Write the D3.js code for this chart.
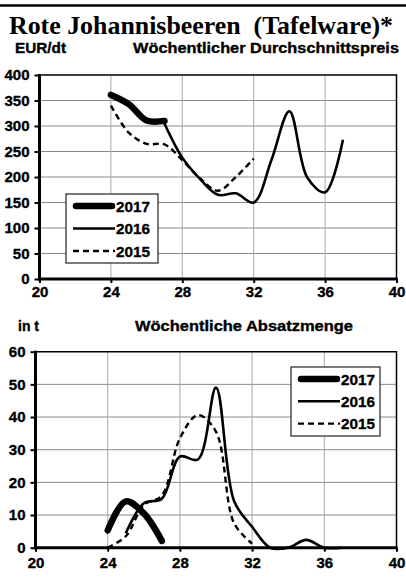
<!DOCTYPE html>
<html>
<head>
<meta charset="utf-8">
<script src="https://cdn.jsdelivr.net/npm/d3@7"></script>
<style>
  body { margin: 0; background: #fff; }
  svg { display: block; font-family: "Liberation Sans", Arial, sans-serif; }
</style>
</head>
<body>
<svg width="406" height="580"></svg>
<script>
// values
var years = ["2017", "2016", "2015"];

var priceWeeks2017 = [24, 25, 26, 27];
var price2017 = [361, 343, 311, 310];
var priceWeeks2016 = [27, 28, 29, 30, 31, 32, 33, 34, 35, 36, 37];
var price2016 = [305, 238, 196, 165, 168, 150, 234, 329, 199, 170, 273];
var priceWeeks2015 = [24, 25, 26, 27, 28, 29, 30, 31, 32];
var price2015 = [340, 287, 265, 264, 233, 197, 173, 200, 236];

var salesWeeks2017 = [24, 25, 26, 27];
var sales2017 = [5.3, 14.2, 10.5, 2.1];
var salesWeeks2016 = [25, 26, 27, 28, 29, 30, 31, 32, 33, 34, 35, 36, 37];
var sales2016 = [4.4, 13.6, 15, 27.9, 27, 49, 14.3, 6.4, 0, 0, 2.4, 0, 0];
var salesWeeks2015 = [24, 25, 26, 27, 28, 29, 30, 31, 32];
var sales2015 = [0, 3.5, 13, 16, 33.5, 40.6, 35.5, 7.5, 1.3];

var xTicks = [20, 24, 28, 32, 36, 40];
var priceTicks = [0, 50, 100, 150, 200, 250, 300, 350, 400];
var salesTicks = [0, 10, 20, 30, 40, 50, 60];

var svg = d3.select("svg");

var styles = {
  "2017": { width: 6.5, dash: null },
  "2016": { width: 2.6, dash: null },
  "2015": { width: 2.4, dash: "6,4" }
};

function zip(xs, ys) {
  return xs.map(function(w, i) { return [w, ys[i]]; });
}

// heavier look for the bold labels
function heavy(sel) {
  sel.attr("stroke", "#000").attr("stroke-width", 0.35);
}

// top rule + title
svg.append("line")
    .attr("x1", 0).attr("x2", 406)
    .attr("y1", 5.5).attr("y2", 5.5)
    .attr("stroke", "#000").attr("stroke-width", 2.5);

svg.append("text")
    .attr("x", 9).attr("y", 34)
    .attr("font-family", "'Liberation Serif', 'DejaVu Serif', serif")
    .attr("font-weight", "bold")
    .attr("font-size", 26)
    .attr("textLength", 384)
    .attr("lengthAdjust", "spacingAndGlyphs")
    .text("Rote Johannisbeeren\u00a0\u00a0(Tafelware)*");

function drawChart(o) {
  var x = d3.scaleLinear().domain([20, 40]).range([o.left, o.right]);
  var y = d3.scaleLinear().domain([0, o.yTicks[o.yTicks.length - 1]]).range([o.bottom, o.top]);
  var g = svg.append("g");

  // unit + subtitle
  g.append("text")
      .attr("x", o.unitX).attr("y", o.labelY)
      .attr("font-weight", "bold").attr("font-size", 14)
      .attr("textLength", o.unitW)
      .attr("lengthAdjust", "spacingAndGlyphs")
      .text(o.unit)
      .call(heavy);
  g.append("text")
      .attr("x", o.subX).attr("y", o.labelY)
      .attr("font-weight", "bold").attr("font-size", 15)
      .attr("textLength", o.subW)
      .attr("lengthAdjust", "spacingAndGlyphs")
      .text(o.sub)
      .call(heavy);

  // grid
  g.append("g").selectAll("line")
    .data(o.yTicks.slice(1, -1))
    .enter().append("line")
      .attr("x1", o.left).attr("x2", o.right)
      .attr("y1", function(d) { return y(d); })
      .attr("y2", function(d) { return y(d); })
      .attr("stroke", "#8a8a8a").attr("stroke-width", 1);
  g.append("g").selectAll("line")
    .data(xTicks.slice(1, -1))
    .enter().append("line")
      .attr("x1", function(d) { return x(d); })
      .attr("x2", function(d) { return x(d); })
      .attr("y1", o.top).attr("y2", o.bottom)
      .attr("stroke", "#a8a8a8").attr("stroke-width", 1);

  // frame
  g.append("path")
      .attr("d", "M" + o.left + "," + o.top + "H" + o.right + "V" + o.bottom)
      .attr("fill", "none").attr("stroke", "#000").attr("stroke-width", 1.5);

  // axes
  var ya = g.append("g")
      .attr("transform", "translate(" + o.left + ",0)")
      .call(d3.axisLeft(y).tickValues(o.yTicks).tickSize(5).tickPadding(5));
  var xa = g.append("g")
      .attr("transform", "translate(0," + o.bottom + ")")
      .call(d3.axisBottom(x).tickValues(xTicks).tickSize(4).tickPadding(o.xPad));
  [ya, xa].forEach(function(a) {
    a.select(".domain").attr("stroke", "#000").attr("stroke-width", 3);
    a.selectAll(".tick line").attr("stroke", "#000").attr("stroke-width", 2);
    a.selectAll(".tick text")
        .attr("fill", "#000")
        .attr("font-family", "'Liberation Sans', Arial, sans-serif")
        .attr("font-weight", "bold")
        .attr("font-size", 15)
        .call(heavy);
  });
  ya.select(".domain").attr("d", "M0," + (o.top - 1) + "V" + (o.bottom + 1.5));
  xa.select(".domain").attr("d", "M" + (o.left - 1.5) + ",0H" + (o.right + 1));

  // lines
  var line = d3.line()
      .x(function(d) { return x(d[0]); })
      .y(function(d) { return y(d[1]); })
      .curve(d3.curveCatmullRom.alpha(0.5));

  o.series.slice().reverse().forEach(function(s) {
    g.append("path")
        .datum(s.data)
        .attr("d", line)
        .attr("fill", "none")
        .attr("stroke", "#000")
        .attr("stroke-width", styles[s.name].width)
        .attr("stroke-dasharray", styles[s.name].dash)
        .attr("stroke-linecap", s.name === "2017" ? "round" : "butt")
        .attr("stroke-linejoin", "round");
  });

  // legend
  var lg = g.append("g");
  lg.append("rect")
      .attr("x", o.legend.x).attr("y", o.legend.y)
      .attr("width", o.legend.w).attr("height", o.legend.h)
      .attr("fill", "#fff").attr("stroke", "#222").attr("stroke-width", 1.2);
  years.forEach(function(yr, i) {
    var ly = o.legend.y + o.legend.row0 + i * o.legend.step;
    var x0 = o.legend.x + (yr === "2017" ? 10 : 7);
    var x1 = o.legend.x + (yr === "2017" ? 46 : 49);
    lg.append("line")
        .attr("x1", x0).attr("x2", x1)
        .attr("y1", ly).attr("y2", ly)
        .attr("stroke", "#000")
        .attr("stroke-width", styles[yr].width)
        .attr("stroke-dasharray", styles[yr].dash)
        .attr("stroke-linecap", yr === "2017" ? "round" : "butt");
    lg.append("text")
        .attr("x", o.legend.x + 50).attr("y", ly + 5.5)
        .attr("font-weight", "bold").attr("font-size", 15)
        .attr("textLength", 34)
        .attr("lengthAdjust", "spacingAndGlyphs")
        .text(yr)
        .call(heavy);
  });
}

drawChart({
  left: 39.5, right: 396.5, top: 75, bottom: 279,
  yTicks: priceTicks, xPad: 3,
  unit: "EUR/dt", unitX: 15, unitW: 51, sub: "Wöchentlicher Durchschnittspreis", subX: 133, subW: 266, labelY: 53,
  series: [
    { name: "2017", data: zip(priceWeeks2017, price2017) },
    { name: "2016", data: zip(priceWeeks2016, price2016) },
    { name: "2015", data: zip(priceWeeks2015, price2015) }
  ],
  legend: { x: 66, y: 194, w: 92, h: 69, row0: 12, step: 22.5 }
});

drawChart({
  left: 35.5, right: 396.5, top: 351.7, bottom: 547.7,
  yTicks: salesTicks, xPad: 6,
  unit: "in t", unitX: 18, unitW: 21, sub: "Wöchentliche Absatzmenge", subX: 135, subW: 218, labelY: 331,
  series: [
    { name: "2017", data: zip(salesWeeks2017, sales2017) },
    { name: "2016", data: zip(salesWeeks2016, sales2016) },
    { name: "2015", data: zip(salesWeeks2015, sales2015) }
  ],
  legend: { x: 291, y: 367, w: 89, h: 69, row0: 12, step: 22.3 }
});
</script>
</body>
</html>
